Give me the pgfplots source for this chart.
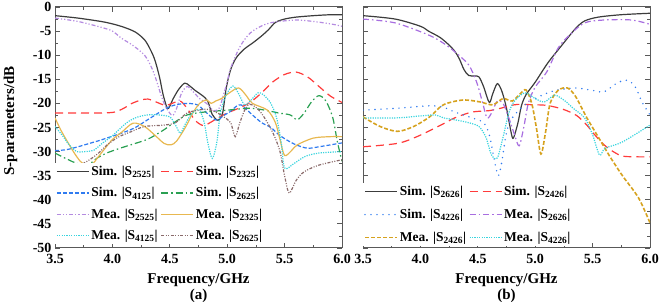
\documentclass[border=0pt]{standalone}
\usepackage{fontspec}
\setmainfont{Liberation Serif}
\usepackage{pgfplots}
\pgfplotsset{compat=1.18}
\definecolor{cblk}{HTML}{3C3C3C}
\definecolor{cred}{HTML}{FF3B3B}
\definecolor{cblue}{HTML}{2F7BF0}
\definecolor{cgreen}{HTML}{2AA052}
\definecolor{cpurA}{HTML}{B48BE0}
\definecolor{cpurB}{HTML}{A86EE0}
\definecolor{cgoldA}{HTML}{E8B850}
\definecolor{cgoldB}{HTML}{D6A21E}
\definecolor{ccyan}{HTML}{38D4DE}
\definecolor{cbrown}{HTML}{8A6A6A}
\pgfplotsset{legend image code/.code={\draw[#1] (0pt,0pt) -- (32pt,0pt);}}
\pgfplotsset{
 myaxis/.style={width=287pt,height=241pt,scale only axis,
  xmin=3.5,xmax=6,ymin=-50,ymax=0,
  xtick={3.5,4,4.5,5,5.5,6}, ytick={-50,-45,...,0},
  minor x tick num=1, minor y tick num=1,
  tick align=inside, major tick length=5pt, minor tick length=3pt,
  axis line style={line width=1pt,color=black!65},
  every tick/.style={line width=0.8pt,black!65},
  /pgf/number format/assume math mode=true,
  tick label style={font=\bfseries\fontsize{14}{16}\selectfont},
  x tick label style={yshift=-3pt,/pgf/number format/.cd,fixed,fixed zerofill,precision=1,/tikz/.cd},
  label style={font=\bfseries\fontsize{15}{16}\selectfont},
  xlabel style={at={(axis description cs:0.5,-0.09)},anchor=north,align=center},
  legend cell align=left, legend columns=2,
  legend style={anchor=south west,draw=none,fill=white,
   font=\bfseries\fontsize{13.5}{15}\selectfont,inner sep=1pt,
   /tikz/every even column/.append style={column sep=1pt}},
  every axis plot/.append style={line width=1.2pt},
 },
 simS/.style={cblk,solid},
 redD/.style={cred,dash pattern=on 8pt off 5pt},
}
\begin{document}
\begin{tikzpicture}
\begin{axis}[myaxis, at={(55pt,54pt)}, anchor=south west,
  legend style={at={(axis description cs:0,0.015)},row sep=6.5pt},
  ylabel={S-parameters/dB},
  ylabel style={at={(axis description cs:-0.155,0.527)},anchor=center},
  xlabel={Frequency/GHz\\(a)}]
\addplot[simS,smooth] coordinates {(3.5,-1.8) (3.7,-2.3) (3.9,-3.0) (4.0,-3.5) (4.1,-4.2) (4.2,-5.2) (4.28,-6.8) (4.33,-8.8) (4.37,-11) (4.41,-14.5) (4.44,-18) (4.47,-20.5) (4.49,-21) (4.53,-19) (4.58,-17) (4.63,-15.8) (4.67,-16.3) (4.72,-17.3) (4.78,-18.3) (4.83,-19.5) (4.87,-22.3) (4.92,-23.5) (4.96,-22) (4.99,-17) (5.03,-13) (5.08,-10.5) (5.15,-8.7) (5.22,-7.5) (5.3,-6) (5.36,-4.7) (5.42,-3.2) (5.5,-2.5) (5.6,-2.1) (5.75,-1.8) (5.9,-1.6) (6.0,-1.6)};
\addlegendentry{Sim. |S\textsubscript{2525}|}
\addplot[redD,smooth] coordinates {(3.5,-22) (3.7,-22) (3.9,-22) (4.02,-21.8) (4.1,-21) (4.17,-20) (4.25,-19.3) (4.31,-19.1) (4.38,-19.7) (4.46,-20.4) (4.52,-20) (4.59,-19.5) (4.65,-21) (4.72,-23.5) (4.79,-24.6) (4.85,-24) (4.92,-23) (5.0,-22) (5.1,-21) (5.2,-19.8) (5.3,-17.8) (5.4,-15.5) (5.5,-14) (5.6,-13.5) (5.7,-14.5) (5.8,-16.5) (5.9,-18.5) (6.0,-19.8)};
\addlegendentry{Sim. |S\textsubscript{2325}|}
\addplot[cblue,dash pattern=on 4pt off 2pt,smooth] coordinates {(3.5,-29.8) (3.6,-29.6) (3.7,-29) (3.8,-28.3) (3.9,-27.6) (4.0,-26.8) (4.1,-26) (4.2,-25) (4.3,-23.5) (4.4,-22) (4.47,-21) (4.55,-20.3) (4.65,-20) (4.74,-20.3) (4.8,-21.5) (4.88,-23.2) (4.92,-23.4) (4.97,-22.5) (5.02,-21.8) (5.08,-20.6) (5.12,-20.3) (5.17,-21.3) (5.22,-22.4) (5.3,-24) (5.38,-25) (5.45,-26.5) (5.52,-27.6) (5.6,-28.6) (5.7,-29.3) (5.8,-29) (5.9,-28.6) (6.0,-28.2)};
\addlegendentry{Sim. |S\textsubscript{4125}|}
\addplot[cgreen,dash pattern=on 7pt off 3pt on 1.5pt off 3pt,smooth] coordinates {(3.5,-30.3) (3.6,-31.5) (3.7,-32.5) (3.8,-32.5) (3.87,-31.3) (3.95,-30.3) (4.08,-29.2) (4.2,-28.3) (4.31,-27.4) (4.4,-26.2) (4.46,-25.3) (4.53,-24.1) (4.65,-22.4) (4.8,-21.8) (5.0,-21.4) (5.2,-21) (5.35,-21.5) (5.45,-22) (5.55,-22.4) (5.61,-23.4) (5.67,-22) (5.74,-19.5) (5.8,-18.4) (5.86,-19.5) (5.92,-23) (5.96,-28) (6.0,-32)};
\addlegendentry{Sim. |S\textsubscript{2625}|}
\addplot[cpurA,dash pattern=on 4pt off 2pt on 1.2pt off 2pt on 1.2pt off 2pt,smooth] coordinates {(3.5,-2.3) (3.7,-3) (3.9,-4.2) (4.0,-5) (4.08,-6.5) (4.18,-8) (4.28,-10) (4.34,-12.5) (4.38,-15) (4.42,-18) (4.46,-20.5) (4.52,-22.5) (4.56,-21) (4.6,-18) (4.65,-16.5) (4.7,-17.5) (4.76,-19) (4.82,-20) (4.88,-21.5) (4.93,-21) (4.97,-18) (5.0,-15.6) (5.03,-12.7) (5.11,-8.3) (5.2,-5.4) (5.32,-3.7) (5.42,-3.1) (5.6,-2.7) (5.75,-3.0) (5.9,-3.5) (6.0,-4.0)};
\addlegendentry{Mea. |S\textsubscript{2525}|}
\addplot[cgoldA,solid,smooth] coordinates {(3.5,-23) (3.55,-25.5) (3.6,-27.6) (3.66,-30) (3.72,-32) (3.78,-33) (3.83,-32.5) (3.87,-31.3) (3.93,-29.5) (4.0,-27.5) (4.08,-26) (4.18,-24.1) (4.28,-24.8) (4.37,-26.6) (4.45,-28.3) (4.51,-28.6) (4.56,-27.8) (4.64,-24.8) (4.7,-22) (4.76,-20) (4.82,-19.3) (4.86,-20) (4.9,-19.5) (4.95,-19) (5.02,-17.8) (5.1,-16.8) (5.17,-18.5) (5.22,-20) (5.35,-21.4) (5.42,-24) (5.46,-27.5) (5.5,-30.8) (5.56,-29.8) (5.61,-28.6) (5.75,-27.2) (5.9,-26.9) (6.0,-26.9)};
\addlegendentry{Mea. |S\textsubscript{2325}|}
\addplot[ccyan,dash pattern=on 1.2pt off 1.2pt,smooth] coordinates {(3.5,-24.8) (3.56,-26.5) (3.62,-28.5) (3.69,-30) (3.76,-30) (3.84,-29.7) (3.9,-28.5) (4.0,-26.7) (4.12,-24.1) (4.2,-23) (4.3,-22.4) (4.4,-22.4) (4.5,-22.8) (4.55,-24.5) (4.59,-26.2) (4.62,-25) (4.67,-22.8) (4.72,-21.5) (4.76,-21.4) (4.8,-24) (4.83,-28) (4.87,-31.4) (4.91,-28) (4.94,-22) (4.99,-18.3) (5.05,-16.4) (5.1,-18) (5.15,-20.3) (5.2,-19.5) (5.27,-17.8) (5.32,-18.3) (5.38,-20) (5.43,-23) (5.47,-28) (5.5,-33.4) (5.58,-32.5) (5.68,-31) (5.8,-30.3) (6.0,-30)};
\addlegendentry{Mea. |S\textsubscript{4125}|}
\addplot[cbrown,dash pattern=on 3pt off 1.5pt on 1pt off 1.5pt on 1pt off 1.5pt,smooth] coordinates {(3.5,-33.5) (3.65,-33.5) (3.78,-32) (3.87,-30.5) (3.95,-28.7) (4.05,-27) (4.15,-26) (4.28,-24.8) (4.45,-24.5) (4.55,-24) (4.65,-22) (4.75,-21.4) (4.82,-21.2) (4.9,-21.8) (4.97,-22.8) (5.03,-24) (5.07,-26.9) (5.11,-24) (5.16,-21) (5.2,-20.2) (5.26,-21) (5.32,-22.8) (5.4,-26.2) (5.46,-30) (5.5,-35) (5.54,-38.6) (5.6,-36) (5.67,-34.2) (5.8,-32.8) (6.0,-31.7)};
\addlegendentry{Mea. |S\textsubscript{2625}|}
\end{axis}
\begin{axis}[myaxis, at={(363pt,54pt)}, anchor=south west, yticklabels={},
  legend style={at={(axis description cs:0,0.008)},row sep=8pt},
  xlabel={Frequency/GHz\\(b)}]
\addplot[simS,smooth] coordinates {(3.5,-1.8) (3.78,-2.5) (4.0,-4) (4.07,-5) (4.17,-6.3) (4.25,-7.9) (4.3,-9.2) (4.34,-10.8) (4.38,-13) (4.42,-14.2) (4.47,-14.3) (4.51,-14.5) (4.55,-16.5) (4.6,-19.8) (4.63,-18) (4.67,-15.9) (4.71,-17.5) (4.75,-21) (4.79,-26) (4.81,-27.2) (4.85,-24) (4.88,-20.5) (4.92,-18.2) (5.0,-15.6) (5.11,-11.6) (5.23,-8) (5.35,-4.5) (5.43,-2.9) (5.55,-2.1) (5.75,-1.6) (6.0,-1.3)};
\addlegendentry{Sim. |S\textsubscript{2626}|}
\addplot[redD,smooth] coordinates {(3.5,-29) (3.8,-28.3) (3.97,-26.9) (4.17,-24.6) (4.3,-23) (4.45,-21.8) (4.6,-21.5) (4.7,-21) (4.78,-20.5) (4.85,-20.2) (5.0,-20.3) (5.1,-20.4) (5.24,-21.2) (5.36,-22.5) (5.45,-24.5) (5.5,-26) (5.6,-28.6) (5.7,-30.3) (5.78,-31) (6.0,-31.1)};
\addlegendentry{Sim. |S\textsubscript{2426}|}
\addplot[cblue,line cap=round,line width=1.6pt,dash pattern=on 0pt off 6pt,smooth] coordinates {(3.5,-21.4) (3.8,-21) (4.08,-20.5) (4.2,-20.8) (4.3,-21.8) (4.45,-23) (4.55,-24) (4.6,-26.5) (4.65,-32.5) (4.68,-35) (4.71,-32) (4.75,-26) (4.8,-23) (4.9,-20.5) (5.0,-19) (5.11,-17.8) (5.2,-17.2) (5.35,-16.8) (5.5,-17.3) (5.6,-17.6) (5.71,-15.8) (5.8,-15.2) (5.87,-16.5) (5.93,-19.7) (6.0,-22.4)};
\addlegendentry{Sim. |S\textsubscript{4226}|}
\addplot[cpurB,dash pattern=on 6pt off 3pt on 1.5pt off 3pt,smooth] coordinates {(3.5,-2.5) (3.78,-3.3) (4.07,-5.8) (4.2,-7.5) (4.3,-9.3) (4.42,-12) (4.49,-15.6) (4.54,-19.7) (4.58,-23) (4.62,-22) (4.67,-19.5) (4.72,-20) (4.77,-23) (4.82,-26.5) (4.86,-28.8) (4.9,-25) (4.94,-20) (5.0,-16.6) (5.1,-13.5) (5.2,-8.5) (5.3,-5.8) (5.43,-3.3) (5.6,-2.7) (5.84,-2.7) (6.0,-3.6)};
\addlegendentry{Mea. |S\textsubscript{2626}|}
\addplot[cgoldB,line width=1.6pt,dash pattern=on 4pt off 2pt,smooth] coordinates {(3.5,-22.8) (3.65,-24.8) (3.8,-25.8) (3.94,-24.8) (4.08,-22.8) (4.2,-20.3) (4.37,-19.3) (4.52,-19.7) (4.63,-20.3) (4.72,-19) (4.8,-19.5) (4.87,-18) (4.92,-17.2) (4.97,-20) (5.01,-25) (5.05,-30.5) (5.09,-26) (5.13,-20) (5.2,-17.3) (5.28,-16.8) (5.35,-18.5) (5.45,-23) (5.55,-27) (5.65,-31) (5.76,-35) (5.9,-39.6) (6.0,-44.8)};
\addlegendentry{Mea. |S\textsubscript{2426}|}
\addplot[ccyan,dash pattern=on 1.2pt off 1.2pt,smooth] coordinates {(3.5,-23) (3.8,-23) (4.0,-22.6) (4.13,-22.4) (4.2,-23) (4.3,-23.4) (4.42,-24) (4.51,-24.8) (4.57,-27) (4.62,-30.7) (4.67,-31.3) (4.72,-27) (4.77,-22) (4.82,-19.5) (4.91,-17.8) (5.0,-19) (5.08,-19.7) (5.17,-18.3) (5.26,-19.5) (5.33,-21) (5.43,-23) (5.5,-26.5) (5.56,-30.7) (5.61,-29.3) (5.76,-28) (6.0,-24.5)};
\addlegendentry{Mea. |S\textsubscript{4226}|}
\end{axis}
\pgfresetboundingbox
\useasboundingbox (0pt,0pt) rectangle (659pt,302pt);
\end{tikzpicture}
\end{document}
